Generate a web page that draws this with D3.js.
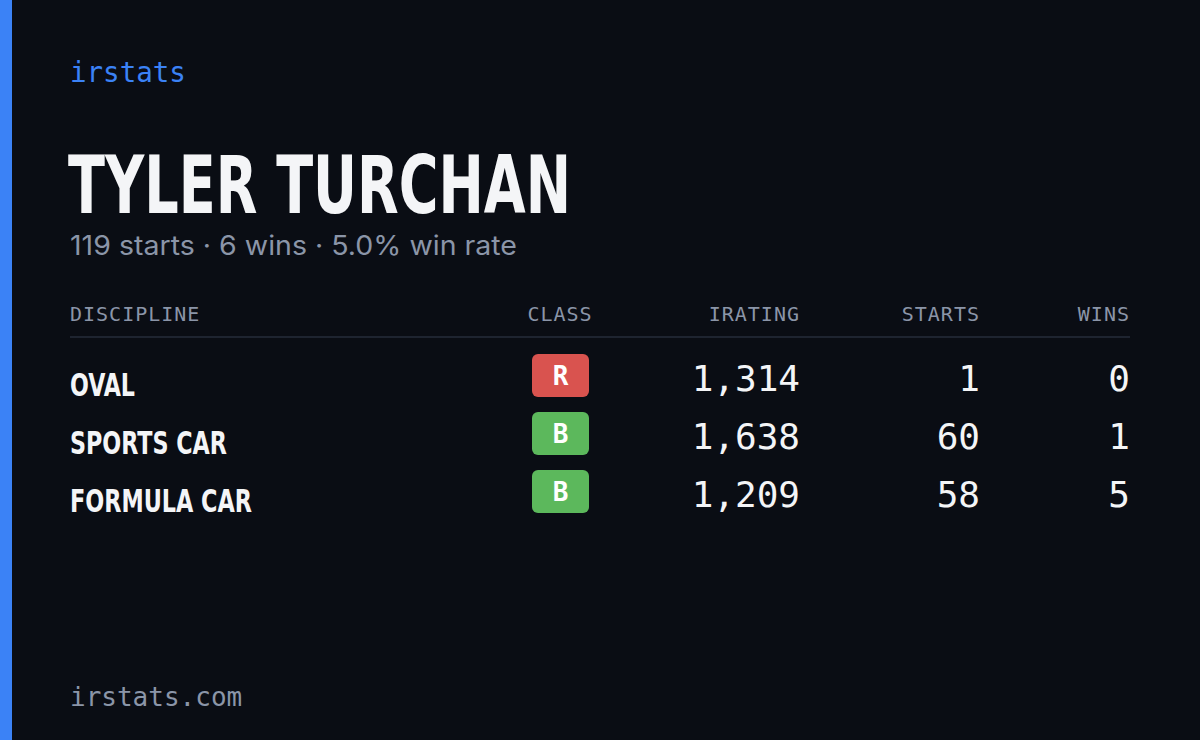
<!DOCTYPE html><html><head><meta charset="utf-8">
<script src="https://cdn.jsdelivr.net/npm/d3@7"></script>
<style>body{margin:0;background:#0a0d14}</style></head><body>
<script>
const disciplines=["OVAL","SPORTS CAR","FORMULA CAR"];
const classes=["R","B","B"];
const iratings=[1314,1638,1209];
const starts=[1,60,58];
const wins=[0,1,5];
const headers=["DISCIPLINE","CLASS","IRATING","STARTS","WINS"];
const W=1200,H=740;
const svg=d3.select("body").append("svg").attr("width",W).attr("height",H);
svg.append("rect").attr("width",W).attr("height",H).attr("fill","#0a0d14");
svg.append("rect").attr("width",12).attr("height",H).attr("fill","#3b82f6");
const mono="'DejaVu Sans Mono',monospace", cond="'DejaVu Sans Condensed','Liberation Sans Narrow',sans-serif";
svg.append("text").attr("x",70).attr("y",82).attr("fill","#3b82f6").attr("font-family",mono).attr("font-weight",500).attr("font-size",27.5).text("irstats");
svg.append("text").attr("x",68).attr("y",213).attr("fill","#f4f5f7").attr("font-family",cond).attr("font-weight","bold").attr("font-size",80).attr("textLength",503).attr("lengthAdjust","spacingAndGlyphs").text("TYLER TURCHAN");
svg.append("text").attr("x",70).attr("y",255).attr("fill","#8b95a8").attr("font-family","Inter,sans-serif").attr("font-size",27).attr("textLength",447).attr("lengthAdjust","spacingAndGlyphs").text("119 starts · 6 wins · 5.0% win rate");
const cols=[{x:70,a:"start"},{x:560,a:"middle"},{x:800,a:"end"},{x:980,a:"end"},{x:1130,a:"end"}];
svg.selectAll(".h").data(headers).join("text").attr("x",(d,i)=>cols[i].x).attr("y",321).attr("text-anchor",(d,i)=>cols[i].a)
 .attr("fill","#8b95a8").attr("font-family",mono).attr("font-size",20).attr("letter-spacing",1).text(d=>d);
svg.append("line").attr("x1",70).attr("x2",1130).attr("y1",337).attr("y2",337).attr("stroke","#1e2430").attr("stroke-width",2);
const y=d3.scaleBand().domain(d3.range(3)).range([346,520]);
const g=svg.selectAll(".r").data(d3.range(3)).join("g").attr("transform",i=>`translate(0,${y(i)})`);
g.append("text").attr("x",70).attr("y",50).attr("fill","#f4f5f7").attr("font-family",cond).attr("font-weight","bold").attr("font-size",32)
 .attr("textLength",i=>[65,157,182][i]).attr("lengthAdjust","spacingAndGlyphs").text(i=>disciplines[i]);
g.append("rect").attr("x",532).attr("y",8).attr("width",57).attr("height",43).attr("rx",6).attr("fill",i=>classes[i]==="R"?"#d9534f":"#5cb85c");
g.append("text").attr("x",560.5).attr("y",39).attr("text-anchor","middle").attr("fill","#fff").attr("font-family",mono).attr("font-weight","bold").attr("font-size",26).text(i=>classes[i]);
const fmt=d3.format(",");
[[iratings,800],[starts,980],[wins,1130]].forEach(([arr,x])=>{
 g.append("text").attr("x",x).attr("y",45).attr("text-anchor","end").attr("fill","#f4f5f7").attr("font-family",mono).attr("font-size",36).text(i=>fmt(arr[i]));
});
svg.append("text").attr("x",70).attr("y",706).attr("fill","#8b95a8").attr("font-family",mono).attr("font-size",26).text("irstats.com");
</script></body></html>
